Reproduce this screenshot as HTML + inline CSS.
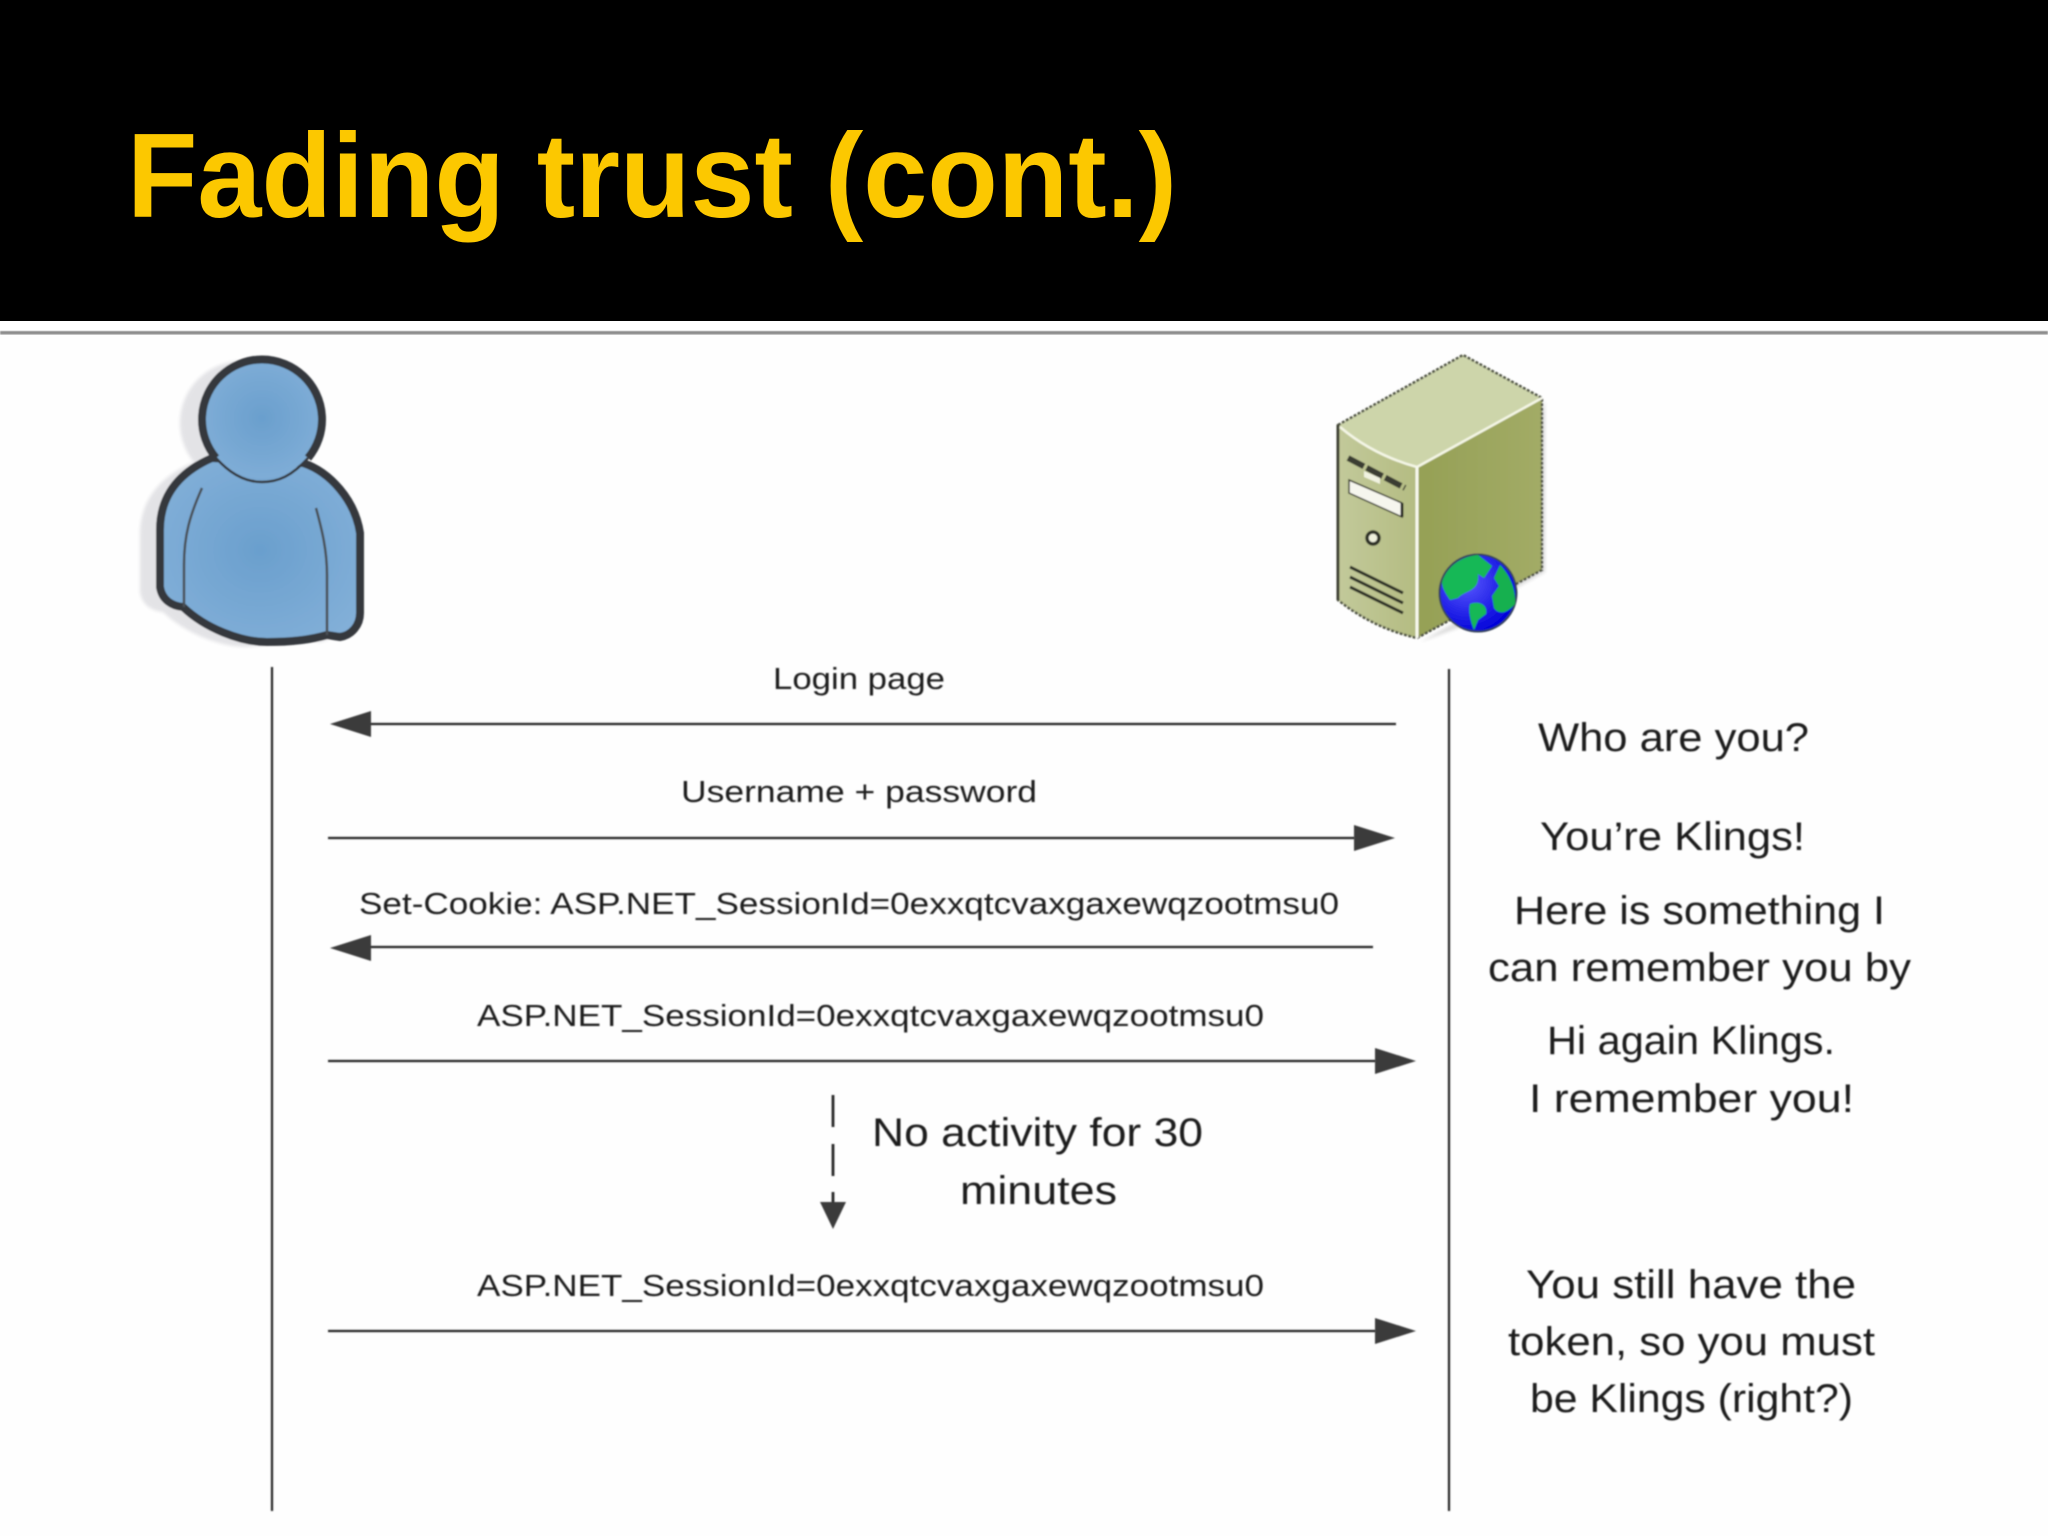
<!DOCTYPE html>
<html><head><meta charset="utf-8"><style>
html,body{margin:0;padding:0;background:#fff;width:2048px;height:1536px;overflow:hidden}
svg{display:block}
text{font-family:"Liberation Sans",sans-serif;fill:#1f1f1f}
.l{font-size:31px}
.r{font-size:40px}
</style></head><body>
<svg width="2048" height="1536" viewBox="0 0 2048 1536" xmlns="http://www.w3.org/2000/svg">
<defs>
<filter id="b"><feGaussianBlur stdDeviation="0.7"/></filter>
<filter id="b2"><feGaussianBlur stdDeviation="1.5"/></filter>
<radialGradient id="pb" cx="0.5" cy="0.5" r="0.6"><stop offset="0" stop-color="#6a9fcd"/><stop offset="1" stop-color="#82afd8"/></radialGradient>
<radialGradient id="pg" cx="0.35" cy="0.35" r="0.7"><stop offset="0" stop-color="#5a5aff"/><stop offset="1" stop-color="#0000d8"/></radialGradient>
<linearGradient id="sr" x1="0" y1="0" x2="1" y2="0"><stop offset="0" stop-color="#95a055"/><stop offset="1" stop-color="#a2ab66"/></linearGradient>
<linearGradient id="sf" x1="0" y1="0" x2="1" y2="0"><stop offset="0" stop-color="#c2c99a"/><stop offset="1" stop-color="#b4bc82"/></linearGradient>
</defs>
<rect width="2048" height="1536" fill="#fefefe"/>
<rect width="2048" height="321" fill="#000"/>
<rect y="321" width="2048" height="11" fill="#fff"/>
<rect y="331" width="2048" height="3.5" fill="#8a8a8a" filter="url(#b)"/>
<text x="127" y="217" font-size="120" font-weight="bold" textLength="1050" lengthAdjust="spacingAndGlyphs" style="fill:#fcc800">Fading trust (cont.)</text>

<!-- person -->
<g filter="url(#b)">
<g transform="translate(-20,5)" fill="#e3e3e6" filter="url(#b2)">
<circle cx="262" cy="418" r="62"/>
<path d="M212 458C180 472 160 495 160 530L160 587C162 600 172 606 183 607C205 628 240 642 267 642L327 635L340 637C352 635 360 625 360 613L360 533C355 500 330 472 303 463Z"/>
</g>
<path d="M212 458C180 472 160 495 160 530L160 587C162 600 172 606 183 607C205 628 240 642 267 642C290 642 310 640 327 635L340 637C352 635 360 625 360 613L360 533C355 500 330 472 303 463Z" fill="url(#pb)" stroke="#36393d" stroke-width="8" stroke-linejoin="round"/>
<circle cx="262" cy="418" r="60" fill="url(#pb)" stroke="none"/>
<path d="M216 458A60 60 0 1 1 308 458" fill="none" stroke="#36393d" stroke-width="8"/>
<path d="M216 458C232 476 248 482 262 482C278 482 292 476 308 458" fill="none" stroke="#36393d" stroke-width="2.5"/>
<path d="M202 488C190 515 184 535 184 565L184 607" fill="none" stroke="#4a4f55" stroke-width="2.5"/>
<path d="M316 508C322 530 327 550 327 575L327 635" fill="none" stroke="#4a4f55" stroke-width="2.5"/>
</g>

<!-- server -->
<g filter="url(#b)">
<path d="M1545 400L1545 572L1420 642L1480 620Z" fill="#dcdcdc" filter="url(#b2)"/>
<path d="M1463 355L1542 398Q1480 436 1417 467Q1373 455 1338 425Z" fill="#cdd5aa"/>
<path d="M1338 425Q1373 455 1417 467L1417 638Q1373 628 1338 600Z" fill="url(#sf)"/>
<path d="M1417 467L1542 398L1542 570L1417 638Z" fill="url(#sr)"/>
<path d="M1338 425L1463 355L1542 398L1542 570L1417 638Q1373 628 1338 600Z" fill="none" stroke="#4f5344" stroke-width="2.5" stroke-dasharray="3 1.5"/>
<path d="M1338 425L1338 600" stroke="#3d4030" stroke-width="3"/>
<path d="M1340 427Q1373 455 1417 467L1542 398" fill="none" stroke="#f4f6e6" stroke-width="2.5"/>
<path d="M1417 467L1417 638" stroke="#f8f9ee" stroke-width="3"/>
<path d="M1348 458L1405 488" stroke="#3a3c30" stroke-width="6" stroke-dasharray="18 3"/>
<path d="M1364 471L1380 478L1380 484L1364 477Z" fill="#f0f2e0"/>
<path d="M1349 480L1402 503L1402 517L1349 493Z" fill="#f6f6ee" stroke="#3a3c30" stroke-width="1.5"/>
<path d="M1402 503L1402 517" stroke="#222" stroke-width="3"/>
<circle cx="1373" cy="538" r="6" fill="#eef0dc" stroke="#2f3128" stroke-width="3.5"/>
<g stroke="#2f3128" stroke-width="3">
<path d="M1350 567L1403 593"/><path d="M1350 577L1403 603"/><path d="M1350 587L1403 613"/>
</g>
<circle cx="1478" cy="593" r="38.5" fill="url(#pg)" stroke="#33415a" stroke-width="2"/>
<path d="M1442 582C1448 564 1464 556 1478 555L1492 566L1484 578L1478 574C1480 592 1465 590 1458 598L1450 600C1446 594 1442 588 1442 582Z" fill="#12b856"/>
<path d="M1500 565C1510 575 1516 590 1515 604C1508 612 1500 616 1494 608L1492 596L1499 586L1494 578Z" fill="#12b04f"/>
<path d="M1470 604C1480 600 1488 606 1486 614L1478 620L1474 630C1471 622 1468 612 1470 604Z" fill="#12b856"/>
</g>

<!-- lifelines -->
<g filter="url(#b)" stroke="#262626" stroke-width="2.2" fill="none">
<path d="M272 667V1511"/><path d="M1449 669V1511"/>
<path d="M1396 724H365"/><path d="M328 838H1355"/><path d="M1373 947H365"/><path d="M328 1061H1376"/><path d="M328 1331H1376"/>
<path d="M833 1095V1127M833 1144V1176M833 1192V1205" stroke-width="2.8"/>
</g>
<g filter="url(#b)" fill="#3a3a3a">
<path d="M330 724L371 711V737Z"/>
<path d="M1395 838L1354 825V851Z"/>
<path d="M330 948L371 935V961Z"/>
<path d="M1416 1061L1375 1048V1074Z"/>
<path d="M1416 1331L1375 1318V1344Z"/>
<path d="M820 1202L846 1202L833 1229Z"/>
</g>

<g filter="url(#b)">
<text class="l" x="773" y="689" textLength="172" lengthAdjust="spacingAndGlyphs">Login page</text>
<text class="l" x="681" y="802" textLength="356" lengthAdjust="spacingAndGlyphs">Username + password</text>
<text class="l" x="359" y="914" textLength="980" lengthAdjust="spacingAndGlyphs">Set-Cookie: ASP.NET_SessionId=0exxqtcvaxgaxewqzootmsu0</text>
<text class="l" x="477" y="1026" textLength="787" lengthAdjust="spacingAndGlyphs">ASP.NET_SessionId=0exxqtcvaxgaxewqzootmsu0</text>
<text class="l" x="477" y="1296" textLength="787" lengthAdjust="spacingAndGlyphs">ASP.NET_SessionId=0exxqtcvaxgaxewqzootmsu0</text>
<text class="r" x="872" y="1146" textLength="331" lengthAdjust="spacingAndGlyphs">No activity for 30</text>
<text class="r" x="960" y="1204" textLength="157" lengthAdjust="spacingAndGlyphs">minutes</text>
<text class="r" x="1538" y="751" textLength="271" lengthAdjust="spacingAndGlyphs">Who are you?</text>
<text class="r" x="1540" y="850" textLength="265" lengthAdjust="spacingAndGlyphs">You’re Klings!</text>
<text class="r" x="1514" y="924" textLength="371" lengthAdjust="spacingAndGlyphs">Here is something I</text>
<text class="r" x="1488" y="981" textLength="423" lengthAdjust="spacingAndGlyphs">can remember you by</text>
<text class="r" x="1547" y="1054" textLength="288" lengthAdjust="spacingAndGlyphs">Hi again Klings.</text>
<text class="r" x="1529" y="1112" textLength="325" lengthAdjust="spacingAndGlyphs">I remember you!</text>
<text class="r" x="1526" y="1298" textLength="330" lengthAdjust="spacingAndGlyphs">You still have the</text>
<text class="r" x="1508" y="1355" textLength="367" lengthAdjust="spacingAndGlyphs">token, so you must</text>
<text class="r" x="1530" y="1412" textLength="323" lengthAdjust="spacingAndGlyphs">be Klings (right?)</text>
</g>
</svg>
</body></html>
